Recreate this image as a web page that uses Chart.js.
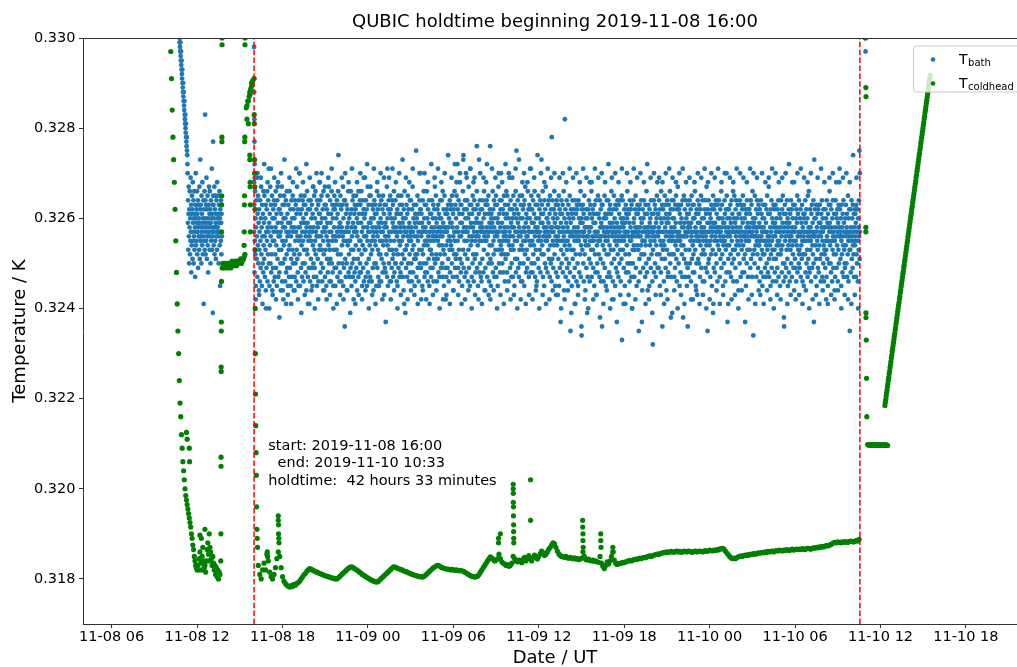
<!DOCTYPE html>
<html>
<head>
<meta charset="utf-8">
<title>QUBIC holdtime</title>
<script src="https://cdn.jsdelivr.net/npm/chart.js@4.4.1/dist/chart.umd.min.js"></script>
<style>
  html, body { margin: 0; padding: 0; background: #fff; overflow: hidden; }
  canvas { display: block; }
</style>
</head>
<body>
<canvas id="holdtimeChart" width="1040" height="667"></canvas>
<script>
// Times are hours since 2019-11-08 00:00 UT, temperatures are in mK on the chart

const xTickHours = [6, 12, 18, 24, 30, 36, 42, 48, 54, 60, 66];
const xTickLabels = ['11-08 06', '11-08 12', '11-08 18', '11-09 00', '11-09 06', '11-09 12',
                     '11-09 18', '11-10 00', '11-10 06', '11-10 12', '11-10 18'];
const yTickValues = [318, 320, 322, 324, 326, 328, 330];
const yTickLabels = ['0.318', '0.320', '0.322', '0.324', '0.326', '0.328', '0.330'];

const holdStart = 16.0;   // 2019-11-08 16:00
const holdEnd = 58.55;    // 2019-11-10 10:33
const noteLines = ['start: 2019-11-08 16:00', '  end: 2019-11-10 10:33', 'holdtime:  42 hours 33 minutes'];

// ---- T_bath ----
// readings are stored in 0.1 mK steps above 320 mK (the sensor is quantised to 0.1 mK)
const bathOffset = 320;

// cool-down before the holdtime, every 0.015 h from 10:45
const bathEarlyStart = 10.75;
const bathEarlyStep = 0.015;
const bathEarly = [
  101,99,100,98,97,99,96,95,97,94,93,95,92,91,93,90,89,88,90,87,86,88,85,84,86,83,82,81,83,80,79,81,78,77,76,78,75,74,72,70,
  59,64,53,61,67,56,50,62,58,66,52,60,55,69,57,63,48,61,54,65,
  57,62,51,68,59,55,64,50,60,56,66,53,61,58,47,63,57,70,54,60,
  62,55,59,66,52,61,57,64,49,58,63,56,60,53,67,59,51,62,73,56,
  55,63,58,50,65,57,61,54,68,59,52,60,56,64,41,58,62,55,66,53,
  60,57,64,52,59,63,55,69,58,51,62,56,65,54,60,48,57,63,59,67,
  56,61,53,66,58,62,50,59,64,55,60,57,71,53,61,56,63,39,58,65,
  63,54,60,57,67,52,58,62,55,65,59,51,61,56,64,58,53,68,57,60,
  58,65,56,61,50,63,57,59,66,54,60,45,62,57,55,64,59,52,61,56
];

// holdtime in six blocks of about 7 hours, evenly sampled from holdStart to holdEnd
const bathHold1 = [
  57,63,48,55,66,52,60,45,58,64,51,56,69,47,61,54,65,50,59,44, 62,53,57,46,64,55,49,60,67,52,58,45,63,56,50,61,48,66,54,59,
  51,65,56,47,60,53,63,40,57,49,62,55,66,46,58,52,64,57,71,50, 59,45,61,54,67,50,56,63,48,58,52,65,44,60,55,49,62,57,46,64,
  55,60,47,63,52,58,66,49,54,61,45,57,64,51,59,68,47,56,62,53, 48,62,56,65,50,57,44,61,53,59,67,46,55,63,50,58,42,60,54,65,
  63,51,58,46,60,55,64,48,57,52,66,49,61,56,45,59,63,53,47,57, 54,66,49,59,62,45,56,51,64,58,47,60,53,65,50,57,62,44,58,52,
  60,47,64,55,50,63,57,46,61,53,67,51,56,48,62,58,45,64,55,70, 52,58,45,61,56,65,49,59,54,62,47,57,64,50,55,60,46,63,53,59,
  65,50,57,63,48,56,61,44,58,53,66,52,59,47,62,55,64,49,57,41, 56,62,46,58,64,51,55,60,49,63,57,45,61,54,67,50,58,47,65,53,
  49,60,55,66,52,57,47,62,56,45,64,59,51,58,63,46,56,61,53,68, 61,54,64,48,59,56,50,65,53,60,46,57,62,49,55,66,52,58,44,63,
  57,47,60,53,63,58,45,56,62,51,59,65,48,55,61,54,67,50,57,46, 53,64,51,59,46,61,57,66,50,55,63,48,60,56,45,62,53,58,65,49,
  62,56,45,63,55,49,60,53,64,57,47,61,52,66,58,50,56,63,46,59, 48,59,65,52,57,62,46,58,54,63,50,56,67,45,60,55,49,64,57,36,
  64,51,57,47,61,55,63,50,58,44,62,54,59,66,48,57,52,60,55,47, 55,61,49,66,53,58,45,62,56,50,64,47,59,53,65,51,57,61,48,63
];
const bathHold2 = [
  58,46,62,54,65,49,57,60,44,56,63,51,59,47,66,53,61,55,48,64, 50,63,55,48,59,66,52,57,45,61,54,64,49,58,62,46,56,60,53,69,
  61,53,47,64,56,50,62,45,58,55,67,48,57,63,51,59,46,65,54,57, 47,59,65,52,60,55,46,63,53,58,49,62,56,44,60,57,64,50,55,61,
  63,54,50,58,45,61,57,66,49,56,62,53,47,59,65,52,58,46,63,55, 52,60,57,46,64,51,59,55,62,48,57,65,54,50,61,43,58,63,49,56,
  59,48,63,55,52,58,67,47,60,54,45,62,56,64,50,57,53,61,46,65, 55,62,46,60,57,49,53,64,51,59,63,47,58,52,66,55,48,60,57,50,
  64,50,58,53,61,46,56,62,45,57,52,65,49,61,55,59,47,63,54,58, 48,57,61,65,50,55,63,52,59,47,60,56,44,62,58,51,66,53,57,39,
  60,53,49,57,63,54,47,61,56,65,50,58,62,46,55,59,52,64,48,57, 56,64,55,50,58,46,62,53,67,57,48,60,54,63,51,56,45,59,61,52,
  51,58,63,47,60,56,52,65,49,55,61,57,46,59,53,64,50,57,62,70, 62,49,56,61,53,59,45,57,64,52,58,50,66,54,60,47,63,55,48,58,
  57,63,50,55,66,48,60,54,46,62,56,51,59,64,45,57,53,61,55,49, 53,47,61,58,52,64,56,49,60,57,63,46,55,51,62,58,67,50,56,60,
  65,56,52,59,46,57,62,51,55,63,48,58,61,54,47,60,56,64,52,57, 49,60,58,64,54,50,56,66,47,59,53,62,45,57,65,52,58,49,61,42,
  58,54,47,62,57,61,49,55,63,51,58,46,60,56,53,64,48,59,55,62, 54,63,59,50,65,53,58,47,61,56,44,62,52,57,66,55,49,63,57,51
];
const bathHold3 = [
  60,52,65,47,58,72,55,62,49,57,64,53,46,61,56,68,51,59,63,48, 56,63,50,59,45,61,57,66,53,74,49,58,62,55,47,64,52,60,57,70,
  48,58,62,55,64,51,57,46,60,53,67,49,61,56,63,45,58,71,54,59, 63,55,47,61,56,50,65,58,52,62,46,57,64,69,51,59,55,48,62,56,
  52,60,66,49,57,63,54,45,59,56,61,73,48,55,64,50,58,62,47,57, 59,46,55,62,51,58,64,57,48,60,53,66,56,44,61,55,49,63,57,68,
  55,64,58,47,63,52,56,61,65,50,57,46,59,54,62,76,51,58,45,60, 61,50,54,59,57,66,48,62,55,52,64,58,47,60,56,63,53,49,65,57,
  47,57,63,56,60,45,59,53,67,57,50,61,55,64,48,58,62,54,70,52, 64,53,59,50,55,62,57,48,61,56,65,52,58,46,63,57,51,60,55,66,
  56,61,48,65,52,58,63,55,46,60,54,69,57,62,49,56,64,53,59,47, 50,58,62,54,60,47,56,65,53,58,61,45,63,55,51,57,66,48,60,75,
  62,55,51,57,64,59,49,61,56,47,58,53,65,50,60,56,63,46,57,54, 57,65,46,60,53,62,55,50,63,58,45,64,57,52,67,55,59,48,61,56,
  53,49,60,56,66,51,58,62,47,57,63,55,60,71,54,48,62,57,65,50, 59,62,55,48,57,64,52,59,54,61,50,66,56,47,58,63,53,60,45,57,
  46,57,63,58,51,55,65,49,60,56,62,53,57,64,48,59,55,61,73,52, 63,54,59,66,47,61,56,52,58,45,64,57,50,62,55,67,49,58,56,60,
  55,60,48,57,63,53,59,64,51,56,61,47,65,54,58,50,62,57,46,78, 58,51,64,55,60,49,57,62,54,66,52,59,45,61,56,63,48,58,64,55
];
const bathHold4 = [
  54,60,47,63,56,51,58,65,45,57,62,49,55,61,37,59,53,64,50,57, 61,55,63,48,58,52,66,56,44,60,54,82,57,62,47,55,59,51,64,53,
  49,58,55,61,46,63,57,50,60,54,65,48,56,35,59,62,53,57,45,61, 57,64,51,56,60,53,47,62,58,55,49,64,41,57,52,61,56,46,63,55,
  62,50,58,45,57,64,55,60,48,56,63,52,59,66,47,54,60,34,57,62, 53,59,63,56,50,61,46,57,65,52,58,55,44,60,54,62,49,58,56,39,
  60,47,56,62,54,58,64,51,57,46,61,55,63,50,58,53,66,47,60,55, 56,62,53,49,59,55,61,45,63,57,52,59,48,56,64,43,57,61,54,50,
  48,57,65,55,61,52,56,60,47,64,55,58,51,62,46,59,56,63,36,58, 63,54,50,58,46,60,57,53,65,49,56,61,55,45,60,57,52,64,58,47,
  55,61,57,64,52,56,48,62,54,59,63,47,58,53,61,66,50,57,42,56, 59,46,62,53,57,65,51,58,60,55,45,63,56,49,57,62,54,59,48,64,
  52,58,55,47,63,56,61,50,57,64,53,58,46,60,55,51,65,33,59,56, 64,53,60,58,49,55,62,57,45,59,56,52,63,48,61,57,54,60,66,50,
  57,62,48,56,61,52,59,46,64,55,50,58,62,55,47,63,56,40,57,53, 50,56,64,59,54,60,47,57,53,62,58,65,49,56,61,45,58,54,63,57,
  61,57,53,46,62,56,51,63,58,48,56,60,54,64,52,59,37,57,55,62, 55,49,60,57,64,52,58,55,61,47,63,54,57,50,66,56,48,61,58,44,
  58,63,56,51,57,45,62,59,54,60,55,49,64,57,52,58,61,46,56,32, 53,57,61,64,48,58,55,63,50,56,62,47,59,54,60,65,52,57,49,61
];
const bathHold5 = [
  56,61,49,58,64,52,57,45,62,55,60,48,66,54,59,51,63,36,57,53, 62,55,57,46,60,54,65,51,58,63,49,56,61,44,59,53,64,57,47,60,
  48,59,63,55,52,61,56,66,50,57,62,47,58,55,64,52,39,60,56,62, 57,64,52,60,47,58,55,49,63,54,59,65,51,57,46,62,56,53,67,55,
  63,50,56,62,57,45,61,55,59,48,56,63,54,60,52,58,47,64,56,38, 54,58,65,51,59,56,62,47,57,53,64,50,60,56,45,61,57,49,63,58,
  59,47,61,57,53,64,50,58,55,62,46,59,56,65,51,57,63,54,48,60, 52,63,55,48,60,57,66,53,58,45,61,56,50,62,57,43,55,64,59,51,
  61,56,50,63,55,59,47,62,54,57,65,49,58,52,60,56,64,46,57,53, 55,60,58,46,62,52,57,64,49,56,61,54,67,55,48,59,35,62,57,50,
  64,51,57,59,54,61,55,47,60,58,52,63,56,45,62,57,53,59,65,41, 49,58,62,55,63,48,59,56,52,64,57,50,61,55,58,46,63,54,60,57,
  58,64,53,60,47,56,62,51,57,55,66,49,58,63,52,60,55,45,59,54, 56,50,59,64,55,61,46,58,53,62,57,48,65,54,60,37,56,62,51,58,
  62,57,54,48,60,56,63,52,59,47,57,64,55,50,61,58,53,66,46,57, 51,60,65,57,53,59,49,62,56,64,54,58,46,60,55,63,57,52,44,61,
  57,54,61,50,64,56,58,47,63,55,60,53,57,62,48,59,65,54,56,51, 63,48,56,60,52,57,62,55,45,61,58,50,64,56,53,59,47,62,57,55,
  55,62,58,53,61,49,57,64,51,56,63,59,47,57,66,52,60,34,58,56, 59,53,50,65,56,60,54,58,62,47,57,55,64,52,58,61,49,56,63,54
];
const bathHold6 = [
  54,59,46,62,55,51,58,64,48,56,61,53,57,45,60,52,63,47,58,55, 60,52,57,49,63,55,47,59,54,62,50,57,65,53,56,48,61,55,67,51,
  47,56,61,54,58,45,62,52,57,64,49,55,60,53,46,59,56,63,51,58, 62,53,48,59,56,63,51,57,46,60,54,58,49,62,55,52,64,47,57,54,
  55,61,57,45,60,52,58,64,53,56,48,62,54,59,65,50,57,46,61,36, 50,58,63,55,47,61,56,49,59,53,64,57,51,60,45,58,54,62,48,56,
  59,46,55,61,53,57,64,50,56,62,47,58,54,60,52,63,49,57,55,44, 57,63,51,58,49,55,60,46,62,54,59,65,48,56,61,53,57,50,64,52,
  53,49,60,56,62,47,57,54,59,51,63,55,46,58,52,61,56,45,60,57, 61,55,52,64,48,59,55,62,50,57,53,60,47,65,56,51,58,66,49,55,
  48,57,62,53,58,55,46,61,56,63,49,54,59,52,57,64,50,37,56,60, 56,62,54,47,60,51,63,57,45,58,55,61,53,49,62,56,48,59,54,63,
  63,51,57,59,46,56,61,52,58,64,47,55,60,57,50,62,54,46,58,53, 52,58,49,62,55,60,53,47,64,56,51,59,45,61,55,58,63,50,57,66,
  59,54,63,50,57,48,62,55,58,46,60,53,64,56,49,57,52,61,55,44, 55,47,58,64,52,61,56,49,60,54,62,57,46,59,53,63,50,58,68,56,
  62,56,51,57,60,45,55,63,52,58,48,61,56,54,64,47,59,53,57,50, 49,60,57,54,63,56,50,58,61,47,57,52,65,55,46,60,56,62,53,35,
  57,53,62,48,58,55,64,51,56,60,49,63,54,57,52,61,47,58,55,62, 54,61,56,59,47,63,52,57,50,62,55,46,60,58,53,64,56,75,51,57
];
// readings in the soft edges of the band, evenly spread over the holdtime
const bathHoldEdge = [
  68,42,70,43,69,41,72,44,68,40,71,43,69,42,67,38,70,44,73,41, 43,69,41,68,44,71,42,70,39,68,43,72,41,69,44,67,40,70,42,68,
  70,44,67,42,69,43,71,40,68,41,74,43,69,42,70,44,68,39,71,42, 41,68,43,70,42,69,44,72,40,67,43,71,41,68,45,70,42,69,37,71,
  69,42,71,44,68,40,70,43,73,41,69,42,68,44,71,43,75,41,70,42, 44,70,42,68,41,72,43,69,44,71,40,68,42,70,43,74,41,69,44,72,
  68,43,70,41,73,42,69,44,71,40,68,43,76,42,70,41,69,44,72,43, 42,71,44,69,40,70,43,68,41,72,44,70,42,69,43,71,40,73,42,68,
  70,41,68,43,71,42,69,44,74,40,70,43,68,41,71,42,69,44,70,43, 43,69,40,70,42,68,44,71,39,69,41,70,43,68,36,71,42,69,40,68,
  68,42,71,43,69,38,70,41,68,44,72,40,69,42,70,37,68,43,71,41, 41,70,43,68,40,71,42,69,35,70,44,68,41,72,42,69,39,70,43,68,
  69,43,68,41,70,42,71,38,69,44,68,40,70,43,71,41,68,36,69,42, 42,68,44,70,41,69,43,71,40,68,42,70,39,69,44,71,41,68,43,70,
  70,41,69,42,68,43,71,40,70,44,69,37,68,42,71,43,70,41,69,44, 43,70,41,68,44,69,42,71,40,70,43,68,42,69,38,70,41,72,43,68,
  68,42,70,43,71,41,69,44,68,40,70,42,73,43,69,41,71,44,68,42, 41,69,43,70,42,68,44,71,40,69,43,70,42,68,41,74,43,69,40,70
];

// odd points: gap before the holdtime, the drop at 16:00 and after the end
const bathStrayHours = [12.56, 13.12, 16.00, 16.00, 16.01, 16.02, 16.03, 16.04, 16.05, 58.90, 58.95];
const bathStrayTenths = [83, 77, 98, 91, 88, 82, 77, 72, 69, 100, 97];

// ---- T_coldhead (mK) ----
// cool-down, every 0.05 h from 10:09
const coldEarlyStart = 10.15;
const coldEarlyStep = 0.05;
const coldEarly = [
  329.7, 329.1, 328.4, 327.8, 327.3, 326.8, 326.2, 325.5, 324.8, 324.1,
  323.5, 323.0, 322.4, 321.9, 321.6, 321.2, 320.9, 320.6, 320.4, 320.2,
  320.0, 319.85, 319.75, 319.65, 319.55, 319.45, 319.35, 319.25, 319.15, 319.0,
  318.9, 318.75, 318.65, 318.5, 318.4, 318.3, 318.25, 318.2, 318.3, 318.2,
  318.45, 318.6, 318.35, 318.2, 318.5, 318.7, 318.4, 318.25, 318.3, 318.15,
  318.4, 318.65, 318.8, 318.55, 318.4, 318.7, 318.6, 318.45, 318.3, 318.5,
  318.35, 318.2, 318.3, 318.1, 318.25, 318.05, 318.2, 318.0, 318.15, 318.1
];

// plateau before the holdtime, every 0.05 h from 13:46
const coldFlatStart = 13.76;
const coldFlatStep = 0.05;
const coldFlat = [
  324.9, 325.0, 324.95, 324.9, 325.0, 324.95, 325.0, 324.9, 324.95, 325.0, 325.0,
  324.95, 324.9, 325.0, 325.05, 325.0, 324.95, 325.0, 325.0, 325.05, 324.95, 325.0,
  325.05, 325.0, 325.0, 325.05, 325.1, 325.0, 325.05, 325.1, 325.1, 325.15, 325.2
];

// holdtime, every 0.1 h from 16:18
const coldMainStart = 16.3;
const coldMainStep = 0.1;
const coldMain = [
  318.30, 318.10, 318.00, 318.20, 318.35, 318.20, 318.55, 318.40, 318.15, 318.05,
  318.00, 318.10, 318.25, 318.45, 318.60, 318.50, 318.25, 318.05, 317.95, 317.90,
  317.86, 317.84, 317.82, 317.85, 317.83, 317.88, 317.86, 317.90, 317.92, 317.95,
  318.00, 318.04, 318.09, 318.12, 318.17, 318.20, 318.23, 318.22, 318.20, 318.18,
  318.17, 318.15, 318.14, 318.12, 318.11, 318.10, 318.08, 318.07, 318.06, 318.05,
  318.04, 318.03, 318.02, 318.01, 318.00, 318.00, 318.02, 318.05, 318.08, 318.11,
  318.14, 318.17, 318.20, 318.23, 318.25, 318.27, 318.26, 318.24, 318.22, 318.20,
  318.18, 318.15, 318.13, 318.10, 318.08, 318.06, 318.04, 318.02, 318.00, 317.98,
  317.97, 317.95, 317.94, 317.93, 317.94, 317.97, 318.00, 318.03, 318.06, 318.09,
  318.12, 318.15, 318.18, 318.21, 318.24, 318.27, 318.26, 318.25, 318.23, 318.22,
  318.21, 318.20, 318.18, 318.17, 318.16, 318.14, 318.13, 318.12, 318.10, 318.09,
  318.08, 318.07, 318.06, 318.05, 318.05, 318.04, 318.05, 318.07, 318.10, 318.13,
  318.16, 318.19, 318.22, 318.25, 318.27, 318.29, 318.30, 318.29, 318.27, 318.25,
  318.24, 318.23, 318.22, 318.22, 318.21, 318.20, 318.21, 318.20, 318.19, 318.20,
  318.19, 318.18, 318.19, 318.18, 318.17, 318.15, 318.13, 318.11, 318.09, 318.07,
  318.06, 318.05, 318.04, 318.05, 318.06, 318.10, 318.15, 318.20, 318.25, 318.30,
  318.35, 318.40, 318.45, 318.49, 318.46, 318.43, 318.40, 318.42, 318.45, 318.55,
  318.45, 318.38, 318.35, 318.33, 318.30, 318.32, 318.28, 318.30, 318.35, 318.50,
  318.45, 318.40, 318.38, 318.42, 318.40, 318.36, 318.44, 318.48, 318.40, 318.45,
  318.52, 318.46, 318.40, 318.47, 318.53, 318.48, 318.44, 318.50, 318.56, 318.62,
  318.58, 318.52, 318.55, 318.60, 318.66, 318.70, 318.75, 318.80, 318.78, 318.70,
  318.62, 318.56, 318.52, 318.50, 318.49, 318.48, 318.50, 318.47, 318.46, 318.48,
  318.46, 318.45, 318.47, 318.44, 318.45, 318.43, 318.44, 318.46, 318.60, 318.50,
  318.43, 318.42, 318.44, 318.41, 318.40, 318.42, 318.39, 318.40, 318.38, 318.37,
  318.50, 318.35, 318.28, 318.23, 318.30, 318.38, 318.33, 318.40, 318.50, 318.60,
  318.42, 318.35, 318.32, 318.34, 318.34, 318.35, 318.37, 318.36, 318.38, 318.39,
  318.40, 318.41, 318.40, 318.42, 318.43, 318.44, 318.43, 318.45, 318.46, 318.45,
  318.47, 318.48, 318.47, 318.49, 318.50, 318.51, 318.50, 318.52, 318.53, 318.54,
  318.55, 318.54, 318.56, 318.57, 318.58, 318.59, 318.58, 318.60, 318.59, 318.60,
  318.61, 318.60, 318.59, 318.61, 318.62, 318.60, 318.61, 318.59, 318.60, 318.62,
  318.61, 318.60, 318.62, 318.61, 318.60, 318.59, 318.61, 318.62, 318.60, 318.61,
  318.62, 318.61, 318.60, 318.62, 318.63, 318.61, 318.62, 318.64, 318.63, 318.62,
  318.64, 318.63, 318.65, 318.64, 318.66, 318.67, 318.68, 318.66, 318.62, 318.58,
  318.54, 318.50, 318.47, 318.45, 318.46, 318.45, 318.47, 318.49, 318.50, 318.51,
  318.50, 318.52, 318.53, 318.52, 318.54, 318.53, 318.55, 318.54, 318.56, 318.55,
  318.56, 318.58, 318.57, 318.58, 318.59, 318.58, 318.60, 318.59, 318.61, 318.60,
  318.61, 318.62, 318.60, 318.62, 318.63, 318.62, 318.64, 318.63, 318.62, 318.64,
  318.63, 318.65, 318.64, 318.63, 318.65, 318.66, 318.64, 318.65, 318.66, 318.65,
  318.66, 318.65, 318.67, 318.66, 318.65, 318.67, 318.68, 318.67, 318.66, 318.68,
  318.69, 318.68, 318.70, 318.69, 318.71, 318.70, 318.72, 318.71, 318.73, 318.74,
  318.73, 318.75, 318.76, 318.78, 318.80, 318.81, 318.80, 318.82, 318.81, 318.80,
  318.82, 318.81, 318.83, 318.82, 318.81, 318.83, 318.84, 318.83, 318.82, 318.84,
  318.85, 318.84, 318.88
];

// after the end: short plateau, then the warm-up ramp
const coldAfterStart = 59.1;
const coldAfterStep = 0.05;
const coldAfter = [
  320.98, 320.97, 320.97, 320.98, 320.96, 320.97, 320.98, 320.97, 320.96, 320.97,
  320.98, 320.97, 320.97, 320.96, 320.98, 320.97, 320.97, 320.98, 320.96, 320.97,
  320.97, 320.98, 320.97, 320.96, 320.97, 320.98, 320.97, 320.97, 320.96
];
const coldRiseStart = 60.31;
const coldRiseStep = 0.03;
const coldRise = [
  321.85, 321.92, 321.98, 322.06, 322.13, 322.19, 322.27, 322.33, 322.41, 322.47,
  322.55, 322.61, 322.69, 322.75, 322.82, 322.90, 322.96, 323.04, 323.10, 323.17,
  323.24, 323.31, 323.38, 323.44, 323.52, 323.58, 323.66, 323.72, 323.79, 323.86,
  323.93, 324.00, 324.07, 324.13, 324.21, 324.27, 324.35, 324.41, 324.48, 324.55,
  324.62, 324.69, 324.76, 324.82, 324.90, 324.96, 325.04, 325.10, 325.17, 325.24,
  325.31, 325.38, 325.45, 325.51, 325.59, 325.65, 325.72, 325.79, 325.86, 325.93,
  326.00, 326.07, 326.13, 326.21, 326.27, 326.35, 326.41, 326.48, 326.55, 326.62,
  326.69, 326.76, 326.82, 326.90, 326.96, 327.04, 327.10, 327.17, 327.24, 327.31,
  327.38, 327.44, 327.52, 327.58, 327.66, 327.72, 327.79, 327.86, 327.93, 328.00,
  328.07, 328.13, 328.21, 328.27, 328.35, 328.41, 328.48, 328.55, 328.62, 328.69,
  328.76, 328.82, 328.90, 328.96, 329.04, 329.10, 329.17
];

// fast jumps and spikes (columns of single readings)
const coldStrayHours = [
  11.25, 11.30, 11.45, 11.47, 12.20, 12.30, 12.55, 12.85,
  13.66, 13.67, 13.68, 13.68, 13.69, 13.69, 13.70, 13.70, 13.71, 13.72, 13.72, 13.73, 13.74, 13.74, 13.75, 13.75,
  15.30, 15.31, 15.32, 15.33, 15.34, 15.35, 15.36, 15.37,
  15.45, 15.50, 15.55, 15.60, 15.65, 15.70, 15.72, 15.75, 15.80, 15.82, 15.85, 15.90,
  15.50, 15.60, 15.70, 15.70, 15.72, 15.72, 15.74, 15.74,
  16.00, 16.01, 16.02, 16.03, 16.04, 16.05, 16.06, 16.07, 16.08, 16.09, 16.10, 16.12, 16.14, 16.16, 16.18, 16.20, 16.22, 16.24,
  16.93, 16.95, 17.70, 17.70, 17.72, 17.72, 17.74, 17.75,
  33.17, 33.17, 33.30,
  34.20, 34.20, 34.21, 34.21, 34.22, 34.22, 34.23, 34.23, 34.24, 34.24,
  35.42, 35.42, 39.08, 39.08, 39.10, 39.10, 39.12, 40.35, 40.35, 40.37, 41.20, 41.22,
  58.95, 58.97, 58.98, 58.97, 58.97, 58.98, 58.98, 59.00, 59.02, 59.04
];
const coldStrayValues = [
  321.25, 321.10, 320.90, 320.60, 318.97, 318.90, 319.10, 319.00,
  318.40, 319.00, 320.50, 320.70, 322.60, 322.70, 323.50, 323.70, 324.60, 325.70, 326.30, 326.50, 327.70, 327.80, 329.85, 330.00,
  325.40, 325.70, 326.30, 326.50, 327.70, 327.80, 329.85, 330.00,
  328.45, 328.50, 328.60, 328.60, 328.70, 328.80, 328.75, 328.85, 328.90, 329.00, 328.95, 329.05,
  328.20, 328.10, 327.40, 327.30, 326.80, 326.70, 326.30, 325.70,
  329.10, 328.30, 328.10, 327.30, 327.00, 326.70, 326.20, 325.30, 324.00, 323.00, 322.10, 321.40, 320.80, 320.30, 319.60, 319.10, 318.90, 318.70,
  318.60, 318.50, 319.40, 319.30, 319.20, 319.00, 318.90, 318.80,
  318.80, 318.90, 319.00,
  320.10, 320.00, 319.90, 319.70, 319.60, 319.40, 319.20, 319.05, 318.90, 318.80,
  320.20, 319.30, 319.30, 319.15, 319.00, 318.85, 318.70, 319.00, 318.85, 318.70, 318.70, 318.60,
  330.00, 328.90, 328.70, 325.80, 325.70, 323.90, 323.80, 323.30, 322.45, 321.60
];

const bathColor = '#1f77b4';
const coldColor = '#008000';
const axisColor = '#333333';
const fontFamily = "'DejaVu Sans', sans-serif";

function sampled(start, step, values) {
    return values.map((v, i) => ({ x: start + i * step, y: v }));
}

function paired(hours, values) {
    return hours.map((h, i) => ({ x: h, y: values[i] }));
}

function tenthsToMilliK(values) {
    return values.map(v => bathOffset + v / 10);
}

const bathHold = [...bathHold1, ...bathHold2, ...bathHold3, ...bathHold4, ...bathHold5, ...bathHold6];
const bathHoldStep = (holdEnd - holdStart) / (bathHold.length - 1);
const bathEdgeStep = (holdEnd - holdStart) / (bathHoldEdge.length - 1);

const bathPoints = [
    ...sampled(bathEarlyStart, bathEarlyStep, tenthsToMilliK(bathEarly)),
    ...sampled(holdStart, bathHoldStep, tenthsToMilliK(bathHold)),
    ...sampled(holdStart, bathEdgeStep, tenthsToMilliK(bathHoldEdge)),
    ...paired(bathStrayHours, tenthsToMilliK(bathStrayTenths))
];

const coldPoints = [
    ...sampled(coldEarlyStart, coldEarlyStep, coldEarly),
    ...sampled(coldFlatStart, coldFlatStep, coldFlat),
    ...sampled(coldMainStart, coldMainStep, coldMain),
    ...sampled(coldAfterStart, coldAfterStep, coldAfter),
    ...sampled(coldRiseStart, coldRiseStep, coldRise),
    ...paired(coldStrayHours, coldStrayValues)
];

function vline(hour) {
    return {
        data: [{ x: hour, y: 317 }, { x: hour, y: 330 }],
        showLine: true,
        borderColor: '#ff0000',
        borderWidth: 1.5,
        borderDash: [5.5, 2.4],
        pointRadius: 0
    };
}

function dotStyle(color, radius) {
    return {
        pointRadius: radius,
        pointHoverRadius: 0,
        pointBorderWidth: 0,
        pointBackgroundColor: color,
        backgroundColor: color,
        borderWidth: 0
    };
}

// title, axis titles, top spine, legend and annotation text
const decorations = {
    id: 'decorations',
    afterDraw(chart) {
        const { ctx, chartArea, scales } = chart;
        const midX = (chartArea.left + chartArea.right) / 2;
        ctx.save();

        // top spine
        ctx.strokeStyle = axisColor;
        ctx.lineWidth = 1;
        ctx.beginPath();
        ctx.moveTo(chartArea.left, chartArea.top + 0.5);
        ctx.lineTo(chartArea.right, chartArea.top + 0.5);
        ctx.stroke();

        ctx.fillStyle = '#000';
        ctx.textAlign = 'center';
        ctx.textBaseline = 'alphabetic';
        ctx.font = '18px ' + fontFamily;
        ctx.fillText('QUBIC holdtime beginning 2019-11-08 16:00', midX, 27);
        ctx.fillText('Date / UT', midX, 663);

        ctx.save();
        ctx.translate(25, (chartArea.top + chartArea.bottom) / 2);
        ctx.rotate(-Math.PI / 2);
        ctx.fillText('Temperature / K', 0, 0);
        ctx.restore();

        // annotation with the holdtime
        ctx.textAlign = 'left';
        ctx.font = '14.5px ' + fontFamily;
        const noteX = scales.x.getPixelForValue(17.0);
        const noteY = scales.y.getPixelForValue(320.86);
        noteLines.forEach((line, i) => ctx.fillText(line, noteX, noteY + i * 17.4));

        // legend box, semi-transparent like matplotlib
        const boxX = 913, boxY = chartArea.top + 7.5, boxW = 110, boxH = 46;
        ctx.fillStyle = 'rgba(255,255,255,0.8)';
        ctx.strokeStyle = '#cccccc';
        ctx.beginPath();
        ctx.roundRect(boxX + 0.5, boxY + 0.5, boxW, boxH, 3);
        ctx.fill();
        ctx.stroke();

        const entries = [
            { color: bathColor, sub: 'bath', y: boxY + 14 },
            { color: coldColor, sub: 'coldhead', y: boxY + 38 }
        ];
        entries.forEach(e => {
            ctx.fillStyle = e.color;
            ctx.beginPath();
            ctx.arc(boxX + 20, e.y, 2.3, 0, Math.PI * 2);
            ctx.fill();
            ctx.fillStyle = '#000';
            ctx.font = '14px ' + fontFamily;
            ctx.fillText('T', boxX + 46, e.y + 4.5);
            const tw = ctx.measureText('T').width;
            ctx.font = '10px ' + fontFamily;
            ctx.fillText(e.sub, boxX + 46 + tw + 0.5, e.y + 6.8);
        });

        ctx.restore();
    }
};

Chart.defaults.font.family = fontFamily;
Chart.defaults.color = '#000';

const canvas = document.getElementById('holdtimeChart');
new Chart(canvas, {
    type: 'scatter',
    data: {
        datasets: [
            vline(holdStart),
            vline(holdEnd),
            { label: 'T_coldhead', data: coldPoints, ...dotStyle(coldColor, 2.6) },
            { label: 'T_bath', data: bathPoints, ...dotStyle(bathColor, 2.4) }
        ]
    },
    options: {
        responsive: false,
        animation: false,
        events: [],
        layout: {
            padding: { top: 38, right: 13, left: 0, bottom: 0 }
        },
        plugins: {
            legend: { display: false },
            title: { display: false },
            tooltip: { enabled: false }
        },
        scales: {
            x: {
                type: 'linear',
                min: 3.984,
                max: 70.29,
                bounds: 'data',
                afterBuildTicks: axis => { axis.ticks = xTickHours.map(v => ({ value: v })); },
                afterFit: axis => { axis.height = 43; },
                ticks: {
                    autoSkip: false,
                    maxRotation: 0,
                    padding: 1,
                    font: { size: 14.5 },
                    callback: value => xTickLabels[xTickHours.indexOf(value)]
                },
                grid: {
                    drawOnChartArea: false,
                    drawTicks: true,
                    tickLength: 4,
                    color: axisColor
                },
                border: { color: axisColor, width: 1 }
            },
            y: {
                type: 'linear',
                min: 317,
                max: 330,
                bounds: 'data',
                afterBuildTicks: axis => { axis.ticks = yTickValues.map(v => ({ value: v })); },
                afterFit: axis => { axis.width = 83; },
                ticks: {
                    padding: 3.5,
                    font: { size: 14.5 },
                    callback: value => yTickLabels[yTickValues.indexOf(value)]
                },
                grid: {
                    drawOnChartArea: false,
                    drawTicks: true,
                    tickLength: 4,
                    color: axisColor
                },
                border: { color: axisColor, width: 1 }
            }
        }
    },
    plugins: [decorations]
});
</script>
</body>
</html>
